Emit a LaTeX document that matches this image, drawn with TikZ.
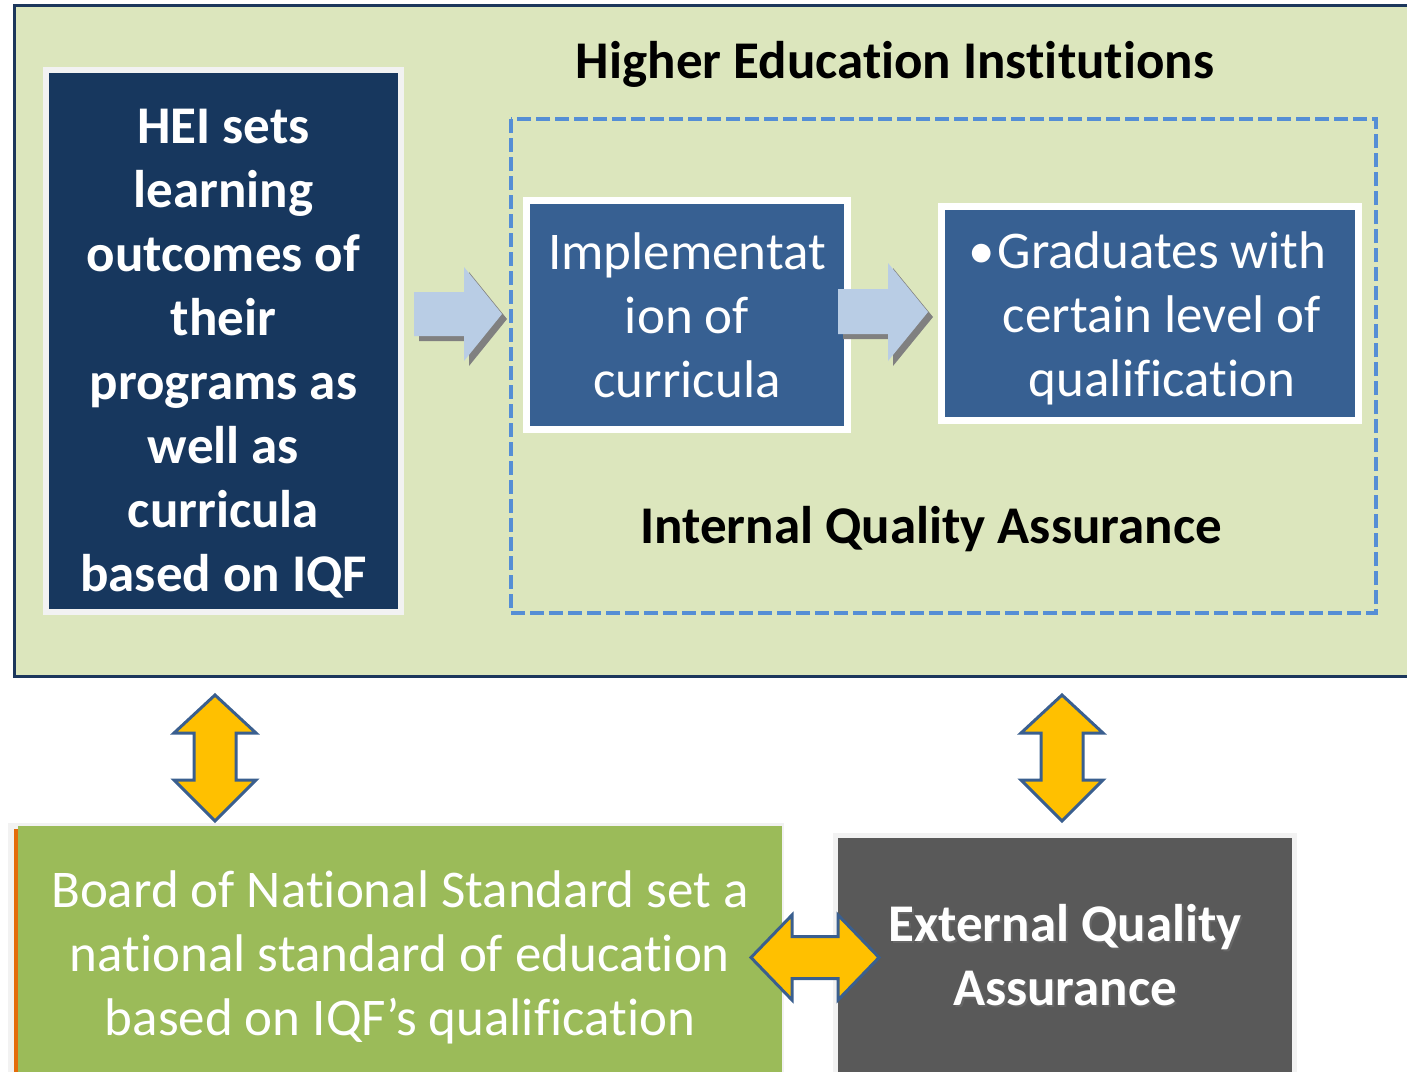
\documentclass[tikz,border=0pt]{standalone}
\usepackage{fontspec}
\setmainfont[Ligatures=NoCommon]{Carlito}
\definecolor{outerfill}{RGB}{220,230,189}
\definecolor{outerline}{RGB}{28,55,92}
\definecolor{heifill}{RGB}{23,55,94}
\definecolor{implfill}{RGB}{55,96,146}
\definecolor{lightgray}{RGB}{242,242,242}
\definecolor{arrowblue}{RGB}{185,205,229}
\definecolor{shadowgray}{RGB}{128,128,128}
\definecolor{dashblue}{RGB}{85,142,213}
\definecolor{yel}{RGB}{255,192,0}
\definecolor{yelborder}{RGB}{58,95,143}
\definecolor{boardgreen}{RGB}{155,187,89}
\definecolor{orangeline}{RGB}{228,108,10}
\definecolor{darkbox}{RGB}{89,89,89}
\tikzset{
  bigfont/.style={font=\fontsize{53}{64}\selectfont},
  boldfont/.style={font=\fontsize{53}{64}\selectfont\bfseries},
  panel/.style={rectangle, inner sep=0pt, line width=7pt, draw=white},
  blockarrow/.style={fill=arrowblue},
  blockshadow/.style={fill=shadowgray},
  dblarrow/.style={fill=yel, draw=yelborder, line width=3pt, line join=miter},
}
\begin{document}
\begin{tikzpicture}[x=1pt,y=-1pt]
\useasboundingbox (0,0) rectangle (1407,1071);
\clip (0,0) rectangle (1407,1071);
% outer HEI area
\path[fill=outerfill, draw=outerline, line width=3pt] (14.5,5) rectangle (1415,676);
\node[boldfont, text=black] (title) at (895,64) {Higher Education Institutions};
% left box
\node[panel, draw=lightgray, line width=6pt, fill=heifill, minimum width=355pt, minimum height=542pt] (hei) at (223.5,341) {};
\node[boldfont, text=white, align=center] (heitext) at (223.5,354) {HEI sets\\learning\\outcomes of\\their\\programs as\\well as\\curricula\\based on IQF};
% dashed IQA box
\draw[dashblue, line width=3.5pt, dash pattern=on 14pt off 5pt] (511,119) rectangle (1376,613);
\node[boldfont, text=black] (iqa) at (931,529) {Internal Quality\ Assurance};
% implementation box
\node[panel, fill=implfill, minimum width=321pt, minimum height=229pt] (impl) at (687,315) {};
\node[bigfont, text=white, align=center] (impltext) at (687,315) {Implementat\\ion of\\curricula};
% graduates box
\node[panel, fill=implfill, minimum width=417pt, minimum height=214pt] (grad) at (1150,313.5) {};
\node[bigfont, text=white, align=center] (gradtext) at (1162,318) {\llap{•\kern3pt}Graduates with\\certain level of\\qualification};
% block arrow 1
\path[blockshadow] (419,297) -- (469,297) -- (469,272) -- (507,319) -- (469,366) -- (469,341) -- (419,341) -- cycle;
\path[blockarrow] (414,292) -- (464,292) -- (464,267) -- (502,314) -- (464,361) -- (464,336) -- (414,336) -- cycle;
% block arrow 2
\path[blockshadow] (843,294) -- (893,294) -- (893,268) -- (933,317) -- (893,366) -- (893,339) -- (843,339) -- cycle;
\path[blockarrow] (838,289) -- (888,289) -- (888,263) -- (928,312) -- (888,361) -- (888,334) -- (838,334) -- cycle;
% board box
\fill[lightgray] (8,823) rectangle (784,1075);
\fill[orangeline] (14,829) rectangle (18,1075);
\node[rectangle, fill=boardgreen, inner sep=0pt, anchor=north west, minimum width=764pt, minimum height=250pt] (board) at (18,826) {};
\node[bigfont, text=white, align=center] (boardtext) at (400,957) {Board of National Standard set a\\national standard of education\\based on IQF’s qualification};
% EQA box
\fill[lightgray] (833,833) rectangle (1297,1075);
\node[rectangle, fill=darkbox, inner sep=0pt, anchor=north west, minimum width=454pt, minimum height=240pt] (eqa) at (838,838) {};
\node[boldfont, text=black!60, align=center] at (1067,957) {External Quality\\Assurance};
\node[boldfont, text=white, align=center] (eqatext) at (1065,955) {External Quality\\Assurance};
% vertical double arrows
\path[dblarrow] (215,695) -- (256,733) -- (236,733) -- (236,780) -- (256,780) -- (215,821) -- (174,780) -- (194,780) -- (194,733) -- (174,733) -- cycle;
\path[dblarrow] (1062,695) -- (1103,733) -- (1083,733) -- (1083,780) -- (1103,780) -- (1062,821) -- (1021,780) -- (1041,780) -- (1041,733) -- (1021,733) -- cycle;
% horizontal double arrow
\path[dblarrow] (751,957.5) -- (792,915) -- (792,936.5) -- (838,936.5) -- (838,915) -- (879,957.5) -- (838,1000) -- (838,978.5) -- (792,978.5) -- (792,1000) -- cycle;
\end{tikzpicture}
\end{document}
